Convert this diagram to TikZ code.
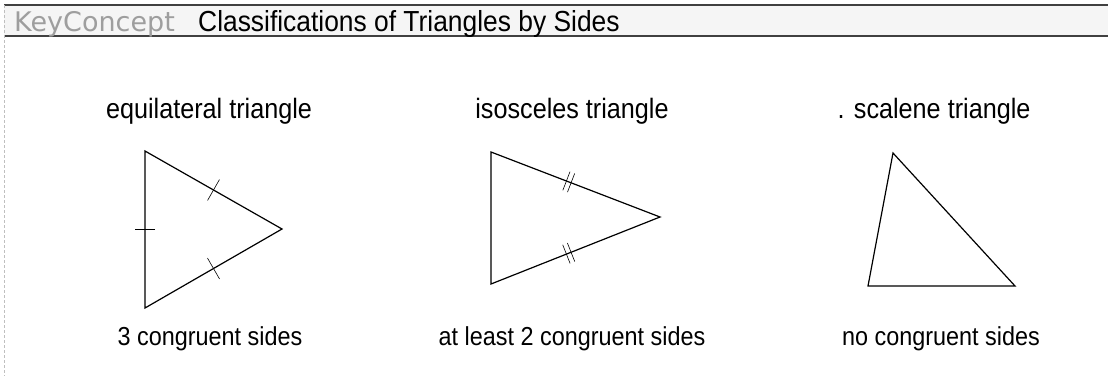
\documentclass[tikz,border=0pt]{standalone}
\usepackage{fontspec}
\setmainfont{Liberation Sans}
\newfontfamily\labelfont[FakeStretch=0.9]{Liberation Sans}
\newfontfamily\headfont[FakeStretch=0.91]{Liberation Sans}
\newfontfamily\keyfont{DejaVu Sans}
\usetikzlibrary{calc}

\begin{document}
\begin{tikzpicture}[
    x=1pt, y=-1pt,
    side/.style={line width=1.2pt, line join=miter},
    tick/.style={line width=0.6pt},
    kind/.style={font=\fontsize{28}{32}\selectfont\labelfont, inner sep=0pt, anchor=base},
    caption/.style={font=\fontsize{26}{30}\selectfont\labelfont, inner sep=0pt, anchor=base}
]
    \useasboundingbox (0,0) rectangle (1108,376);

    % header bar
    \fill[gray!8] (4,5) rectangle (1108,36);
    \draw[line width=1.6pt, black!75] (4,5) -- (1108,5);
    \draw[line width=1.6pt, black!75] (4,36) -- (1108,36);
    \draw[line width=0.6pt, gray!50, dash pattern=on 3pt off 2pt] (4,5) -- (4,376);
    \node[font=\fontsize{27}{30}\selectfont\keyfont, text=black!38, inner sep=0pt, anchor=base west] (kc) at (14,31) {KeyConcept};
    \node[font=\fontsize{29}{32}\selectfont\headfont, inner sep=0pt, anchor=base west] (head) at (198,31) {Classifications of Triangles by Sides};

    % equilateral
    \coordinate (e1) at (145,151);
    \coordinate (e2) at (145,308);
    \coordinate (e3) at (282,229);
    \draw[side] (e1) -- (e3) -- (e2) -- cycle;
    \draw[tick] ($(e1)!0.5!(e2)!10pt!90:(e2)$) -- ($(e1)!0.5!(e2)!10pt!-90:(e2)$);
    \draw[tick] ($(e1)!0.5!(e3)!12pt!90:(e3)$) -- ($(e1)!0.5!(e3)!12pt!-90:(e3)$);
    \draw[tick] ($(e2)!0.5!(e3)!12pt!90:(e3)$) -- ($(e2)!0.5!(e3)!12pt!-90:(e3)$);
    \node[kind] (eqkind) at (209,118) {equilateral triangle};
    \node[caption] (eqcap) at (210,345) {3 congruent sides};

    % isosceles
    \coordinate (i1) at (491,152);
    \coordinate (i2) at (491,284);
    \coordinate (i3) at (660,217);
    \draw[side] (i1) -- (i3) -- (i2) -- cycle;
    \coordinate (im1) at ($(i1)!0.46!(i3)$);
    \coordinate (im2) at ($(i2)!0.46!(i3)$);
    \foreach \m/\e in {im1/i3, im2/i3} {
        \draw[tick] ($(\m)!2.5pt!(\e)!10pt!90:(\e)$) -- ($(\m)!2.5pt!(\e)!10pt!-90:(\e)$);
        \draw[tick] ($(\m)!-2.5pt!(\e)!10pt!90:(\e)$) -- ($(\m)!-2.5pt!(\e)!10pt!-90:(\e)$);
    }
    \node[kind] (isokind) at (572,118) {isosceles triangle};
    \node[caption] (isocap) at (572,345) {at least 2 congruent sides};

    % scalene
    \coordinate (s1) at (893,153);
    \coordinate (s2) at (868,286);
    \coordinate (s3) at (1015,286);
    \draw[side] (s1) -- (s3) -- (s2) -- cycle;
    \node[kind] (scakind) at (934,118) {. scalene triangle};
    \node[caption] (scacap) at (941,345) {no congruent sides};
\end{tikzpicture}
\end{document}
